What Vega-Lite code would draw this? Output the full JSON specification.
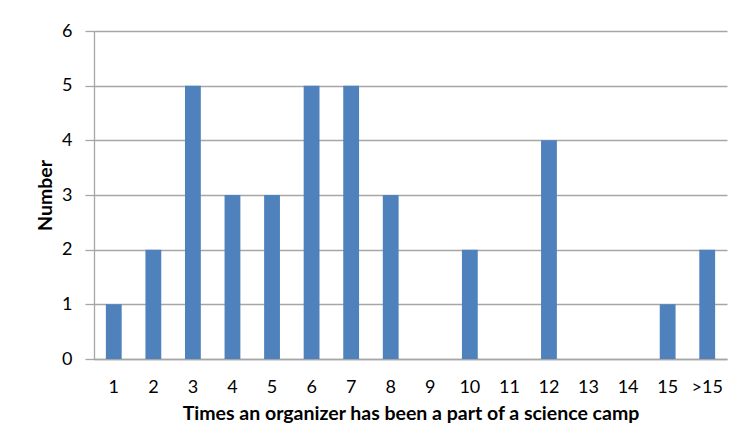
{
  "$schema": "https://vega.github.io/schema/vega-lite/v6.json",
  "autosize": "none",
  "width": 633,
  "height": 328,
  "padding": {"left": 94, "top": 31, "right": 13, "bottom": 89},
  "background": "white",
  "data": {
    "values": [
      {"times": "1", "number": 1},
      {"times": "2", "number": 2},
      {"times": "3", "number": 5},
      {"times": "4", "number": 3},
      {"times": "5", "number": 3},
      {"times": "6", "number": 5},
      {"times": "7", "number": 5},
      {"times": "8", "number": 3},
      {"times": "9", "number": 0},
      {"times": "10", "number": 2},
      {"times": "11", "number": 0},
      {"times": "12", "number": 4},
      {"times": "13", "number": 0},
      {"times": "14", "number": 0},
      {"times": "15", "number": 1},
      {"times": ">15", "number": 2}
    ]
  },
  "mark": {"type": "bar", "color": "#4f81bd"},
  "encoding": {
    "x": {
      "field": "times",
      "type": "ordinal",
      "sort": null,
      "scale": {"paddingInner": 0.6, "paddingOuter": 0.3},
      "axis": {
        "title": "Times an organizer has been a part of a science camp",
        "labelAngle": 0,
        "ticks": false,
        "tickSize": 0,
        "labelPadding": 28,
        "labelBaseline": "middle",
        "titleY": 54,
        "titleBaseline": "middle"
      }
    },
    "y": {
      "field": "number",
      "type": "quantitative",
      "scale": {"domain": [0, 6], "nice": false},
      "axis": {
        "title": "Number",
        "values": [0, 1, 2, 3, 4, 5, 6],
        "tickSize": 9,
        "labelPadding": 13,
        "grid": true,
        "titleX": -49,
        "titleY": 164,
        "titleAngle": -90,
        "titleAlign": "center",
        "titleBaseline": "middle"
      }
    }
  },
  "config": {
    "view": {"stroke": null},
    "font": "Lato",
    "axis": {
      "domainColor": "#a6a6a6",
      "tickColor": "#a6a6a6",
      "gridColor": "#a6a6a6",
      "domainWidth": 1.3,
      "tickWidth": 1.3,
      "gridWidth": 1.3,
      "labelFont": "Lato",
      "labelFontSize": 18,
      "labelColor": "#000000",
      "titleFont": "Lato",
      "titleFontSize": 19.5,
      "titleFontWeight": "bold",
      "titleColor": "#000000"
    }
  }
}
